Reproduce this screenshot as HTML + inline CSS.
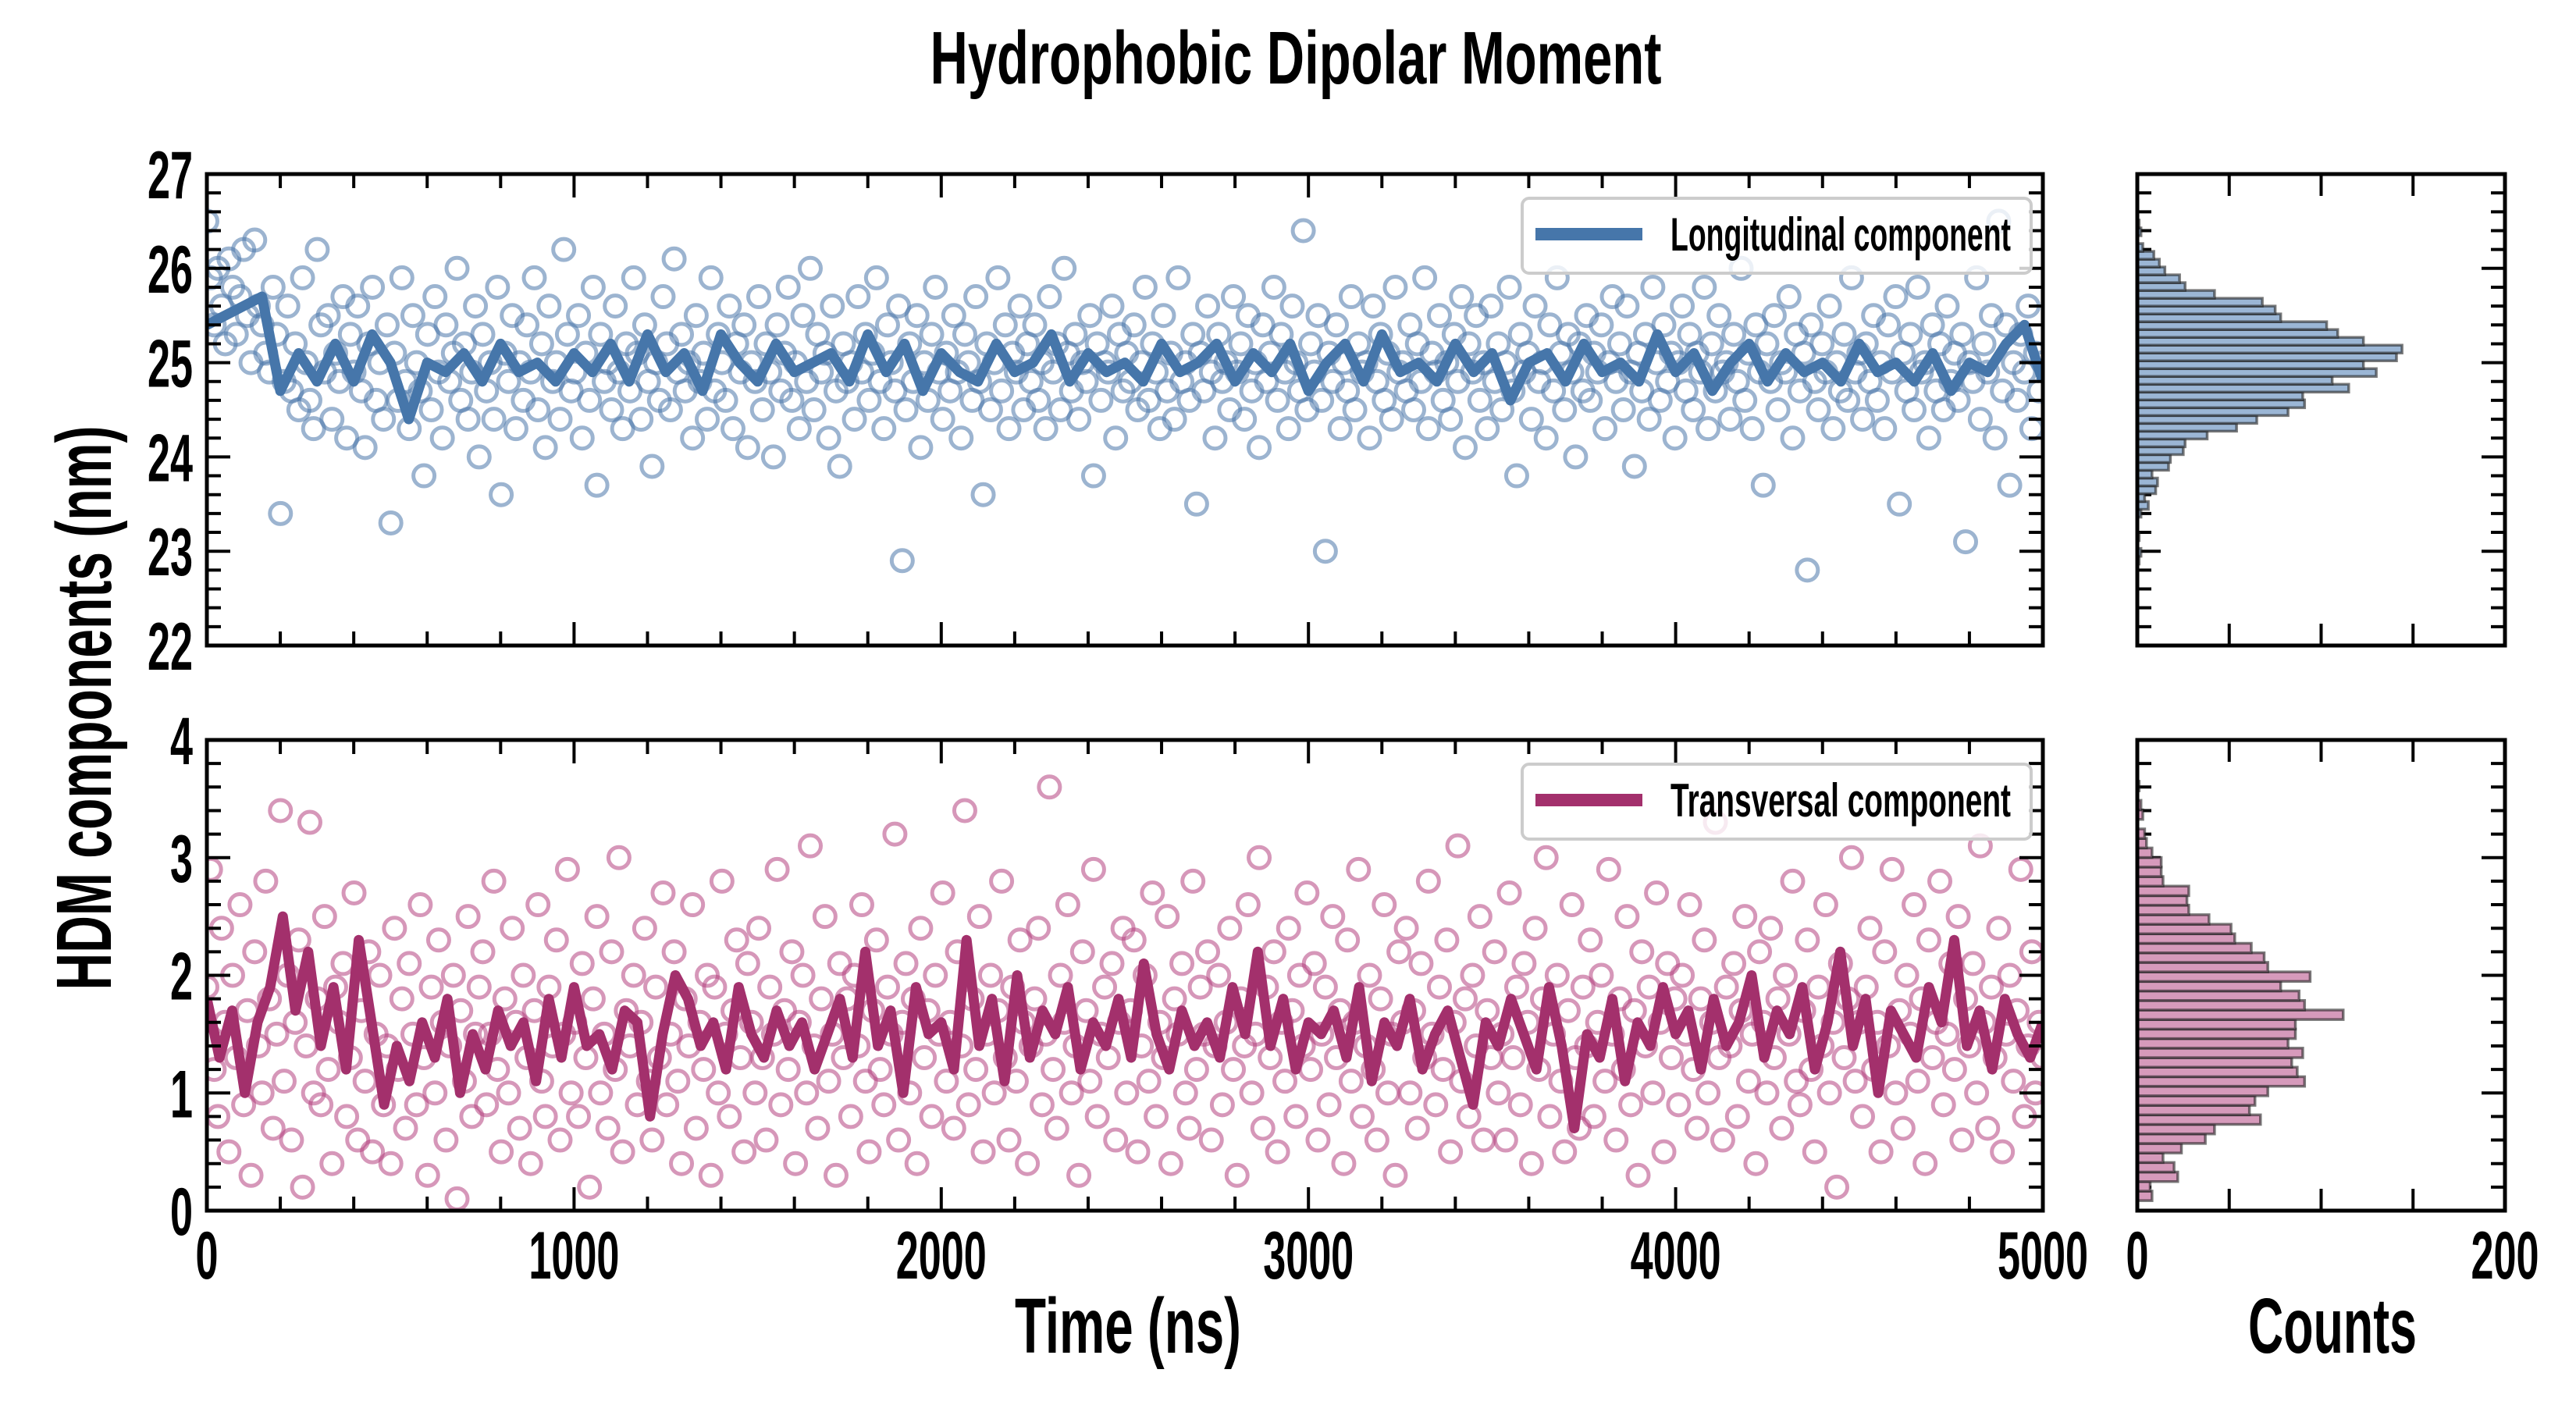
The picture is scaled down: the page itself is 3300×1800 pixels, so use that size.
<!DOCTYPE html>
<html><head><meta charset="utf-8"><style>
html,body{margin:0;padding:0;background:#fff;}
svg{display:block;}
text{font-family:"Liberation Sans Narrow","Liberation Sans",sans-serif;font-weight:bold;fill:#000;}
</style></head><body>
<svg id="chart" xmlns="http://www.w3.org/2000/svg" width="3300" height="1800" viewBox="0 0 3300 1800">
<rect width="3300" height="1800" fill="#fff"/>
<text x="1660" y="107" text-anchor="middle" font-size="96" textLength="937" lengthAdjust="spacingAndGlyphs">Hydrophobic Dipolar Moment</text>
<text x="1445" y="1733" text-anchor="middle" font-size="100" textLength="290" lengthAdjust="spacingAndGlyphs">Time (ns)</text>
<text x="2988" y="1733" text-anchor="middle" font-size="100" textLength="216" lengthAdjust="spacingAndGlyphs">Counts</text>
<text transform="translate(142,907) rotate(-90)" text-anchor="middle" font-size="100" textLength="723" lengthAdjust="spacingAndGlyphs">HDM components (nm)</text>
<g id="layer"></g>
</svg>
<script>
// ---- data ----
const longScatter = [
26.5,25.9,25.4,26.0,25.6,25.2,26.1,25.8,25.3,25.7,26.2,25.5,25.0,26.3,25.6,25.4,25.1,24.9,25.8,25.3,23.4,24.8,25.6,24.7,25.2,
24.5,25.9,25.0,24.6,24.3,26.2,25.4,24.9,25.5,24.4,25.1,24.8,25.7,24.2,25.3,24.9,25.6,24.7,24.1,25.2,25.8,24.6,25.0,24.4,25.4,
23.3,25.1,24.6,25.9,24.8,24.3,25.5,25.0,24.7,23.8,25.3,24.5,25.7,24.9,24.2,25.4,24.8,25.1,26.0,24.6,25.2,24.4,24.9,25.6,24.0,
25.3,24.7,25.0,24.4,25.8,23.6,25.1,24.8,25.5,24.3,25.0,24.6,25.4,24.9,25.9,24.5,25.2,24.1,25.6,24.8,25.0,24.4,26.2,25.3,24.7,
24.9,25.5,24.2,25.1,24.6,25.8,23.7,25.3,24.8,25.0,24.5,25.6,24.9,24.3,25.2,24.7,25.9,25.1,24.4,25.4,24.8,23.9,25.0,24.6,25.7,
25.2,24.5,26.1,24.9,25.3,24.7,25.0,24.2,25.5,24.8,25.1,24.4,25.9,24.7,25.3,25.0,24.6,25.6,24.3,25.2,24.9,25.4,24.1,25.0,24.8,
25.7,24.5,25.2,24.9,24.0,25.4,24.7,25.1,25.8,24.6,25.0,24.3,25.5,24.8,26.0,24.5,25.3,24.9,25.1,24.2,25.6,24.7,23.9,25.2,24.8,
25.0,24.4,25.7,24.9,25.3,24.6,25.1,25.9,24.8,24.3,25.4,25.0,24.7,25.6,22.9,24.5,25.2,24.8,25.5,24.1,25.0,24.6,25.3,25.8,24.9,
24.4,25.1,24.7,25.5,24.9,24.2,25.3,25.0,24.6,25.7,24.8,23.6,25.2,24.5,25.0,25.9,24.7,25.4,24.3,25.1,24.9,25.6,24.5,25.2,24.8,
25.4,24.6,25.0,24.3,25.7,24.9,25.2,24.5,26.0,25.1,24.7,25.3,24.4,25.0,24.8,25.5,23.8,25.2,24.6,25.0,24.9,25.6,24.2,25.3,24.7,
25.1,24.8,25.4,24.5,25.0,25.8,24.6,25.2,24.9,24.3,25.5,24.7,25.1,24.4,25.9,24.8,25.0,24.6,25.3,23.5,25.1,24.7,25.6,24.9,24.2,
25.3,24.8,25.0,24.5,25.7,24.9,25.2,24.4,25.5,24.7,25.0,24.1,25.4,24.8,25.1,25.8,24.6,25.3,24.9,24.3,25.6,25.0,24.7,26.4,24.5,
25.2,24.9,25.5,24.6,23.0,25.1,24.8,25.4,24.3,25.0,24.7,25.7,24.5,25.2,24.9,25.0,24.2,25.6,24.8,25.3,24.6,25.1,24.4,25.8,24.9,
25.0,24.7,25.4,24.5,25.2,24.8,25.9,24.3,25.1,24.9,25.5,24.6,25.0,24.4,25.3,24.8,25.7,24.1,25.2,24.9,25.5,24.6,25.0,24.3,25.6,
24.8,25.2,24.5,25.0,25.8,24.7,23.8,25.3,24.9,25.1,24.4,25.6,24.8,25.0,24.2,25.4,24.7,25.9,25.1,24.5,25.3,24.9,24.0,25.2,24.7,
25.5,24.6,25.1,24.9,25.4,24.3,25.0,25.7,24.8,25.2,24.5,25.6,24.9,23.9,25.1,24.7,25.3,24.4,25.8,25.0,24.6,25.4,24.8,25.1,24.2,
25.0,25.6,24.7,25.3,24.5,25.1,24.9,25.8,24.3,25.2,24.7,25.5,24.9,25.0,24.4,25.3,24.8,26.0,24.6,25.1,24.3,25.4,24.9,23.7,25.2,
24.8,25.5,24.5,25.0,24.9,25.7,24.2,25.3,24.7,25.1,22.8,25.4,24.8,24.5,25.2,24.9,25.6,24.3,25.0,24.7,25.3,24.6,25.9,24.9,25.1,
24.4,25.2,24.8,25.5,24.6,25.0,24.3,25.4,24.9,25.7,23.5,25.1,24.7,25.3,24.5,25.8,24.9,25.0,24.2,25.4,24.7,25.2,24.5,25.6,24.8,
25.1,24.6,25.3,23.1,25.0,24.8,25.9,24.4,25.2,24.9,25.5,24.2,26.5,24.7,25.4,23.7,25.0,24.6,25.3,24.9,25.6,24.3,25.1,24.7,25.0];
const transScatter = [
1.9,2.9,1.2,0.8,2.4,1.6,0.5,2.0,1.3,2.6,0.9,1.7,0.3,2.2,1.4,1.0,2.8,1.8,0.7,1.5,3.4,1.1,2.0,0.6,1.6,
2.3,0.2,1.4,3.3,1.0,1.8,0.9,2.5,1.2,0.4,1.9,1.6,2.1,0.8,1.3,2.7,0.6,1.7,1.1,2.2,0.5,1.5,2.0,0.9,1.4,
0.4,2.4,1.2,1.8,0.7,2.1,1.5,0.9,2.6,1.3,0.3,1.9,1.0,2.3,1.6,0.6,1.4,2.0,0.1,1.7,1.1,2.5,0.8,1.5,1.9,
2.2,0.9,1.5,2.8,1.2,0.5,1.8,1.0,2.4,1.6,0.7,2.0,1.3,0.4,1.7,2.6,1.1,0.8,1.9,1.4,2.3,0.6,1.5,2.9,1.0,
1.6,0.8,2.1,1.3,0.2,1.8,2.5,1.0,1.5,0.7,2.2,1.2,3.0,0.5,1.7,1.4,2.0,0.9,1.6,2.4,1.1,0.6,1.9,1.3,2.7,
0.9,1.5,2.2,1.1,0.4,1.8,1.4,2.6,0.7,1.6,1.2,2.0,0.3,1.9,1.0,2.8,1.5,0.8,1.7,2.3,1.3,0.5,2.1,1.6,1.0,
2.4,1.3,0.6,1.9,1.5,2.9,0.9,1.7,1.2,2.2,0.4,1.6,2.0,1.0,3.1,1.4,0.7,1.8,2.5,1.1,1.5,0.3,2.1,1.3,1.8,
0.8,2.0,1.4,2.6,1.1,0.5,1.7,2.3,1.2,0.9,1.9,1.5,3.2,0.6,1.6,2.1,1.0,1.8,0.4,2.4,1.3,1.7,0.8,2.0,1.5,
2.7,1.1,1.6,0.7,2.2,1.4,3.4,0.9,1.8,1.2,2.5,0.5,1.5,2.0,1.0,1.7,2.8,1.3,0.6,1.9,1.1,2.3,1.6,0.4,1.4,
1.8,2.4,0.9,1.5,3.6,1.2,0.7,2.0,1.6,2.6,1.0,1.4,0.3,2.2,1.7,1.1,2.9,0.8,1.5,1.9,1.3,2.1,0.6,1.6,2.4,
1.0,1.7,2.3,0.5,1.4,2.0,1.1,2.7,0.8,1.6,1.3,2.5,0.4,1.8,1.5,2.1,1.0,0.7,2.8,1.2,1.9,1.5,2.2,0.6,1.4,
2.0,0.9,1.6,2.4,1.2,0.3,1.8,1.4,2.6,1.0,1.5,3.0,0.7,1.9,1.3,2.2,0.5,1.6,1.1,2.4,1.7,0.8,2.0,1.4,2.7,
1.2,2.1,0.6,1.5,1.9,0.9,2.5,1.3,1.7,0.4,2.3,1.1,1.6,2.9,0.8,1.4,2.0,1.2,0.6,1.8,2.6,1.0,1.5,0.3,2.2,
1.6,2.4,1.0,1.7,0.7,2.1,1.3,2.8,1.5,0.9,1.9,1.2,2.3,0.5,1.6,3.1,1.1,1.8,0.8,2.0,1.4,2.5,0.6,1.7,1.3,
2.2,1.0,1.5,0.6,2.7,1.3,1.9,0.9,2.1,1.6,0.4,2.4,1.2,1.8,3.0,0.8,1.5,2.0,1.1,0.5,1.7,2.6,1.3,0.7,1.9,
1.4,2.3,0.8,1.6,2.0,1.1,2.9,1.5,0.6,1.8,1.2,2.5,0.9,1.7,0.3,2.2,1.4,1.9,1.0,2.7,1.6,0.5,2.1,1.3,1.8,
0.9,2.0,1.5,2.6,1.2,0.7,1.8,2.3,1.0,1.6,3.3,1.3,0.6,1.9,1.4,2.1,0.8,1.7,2.5,1.1,1.5,0.4,2.2,1.6,1.0,
2.4,1.3,1.8,0.7,2.0,1.5,2.8,1.1,0.9,1.7,2.3,1.2,0.5,1.9,1.4,2.6,1.0,1.6,0.2,2.1,1.3,1.8,3.0,1.1,1.6,
0.8,1.9,2.4,1.2,1.6,0.5,2.2,1.4,2.9,1.0,1.7,0.7,2.0,1.5,2.6,1.1,1.8,0.4,2.3,1.3,1.6,2.8,0.9,1.5,2.1,
1.2,2.5,0.6,1.8,1.4,2.1,1.0,3.1,1.6,0.7,1.9,1.3,2.4,0.5,1.5,2.0,1.1,1.7,2.9,0.8,1.4,2.2,1.0,1.6,1.3];
const longLine = [25.4,25.5,25.6,25.7,24.7,25.1,24.8,25.2,24.8,25.3,25.0,24.4,25.0,24.9,25.1,24.8,25.2,24.9,25.0,24.8,25.1,24.9,25.2,24.8,25.3,24.9,25.1,24.7,25.3,25.0,24.8,25.2,24.9,25.0,25.1,24.8,25.3,24.9,25.2,24.7,25.1,24.9,24.8,25.2,24.9,25.0,25.3,24.8,25.1,24.9,25.0,24.8,25.2,24.9,25.0,25.2,24.8,25.1,24.9,25.2,24.7,25.0,25.2,24.8,25.3,24.9,25.0,24.8,25.2,24.9,25.1,24.6,25.0,25.1,24.8,25.2,24.9,25.0,24.8,25.3,24.9,25.1,24.7,25.0,25.2,24.8,25.1,24.9,25.0,24.8,25.2,24.9,25.0,24.8,25.1,24.7,25.0,24.9,25.2,25.4,24.8];
const transLine = [1.8,1.3,1.7,1.0,1.6,1.9,2.5,1.7,2.2,1.4,1.9,1.2,2.3,1.6,0.9,1.4,1.1,1.6,1.3,1.8,1.0,1.5,1.2,1.7,1.4,1.6,1.1,1.8,1.3,1.9,1.4,1.5,1.2,1.7,1.6,0.8,1.5,2.0,1.8,1.4,1.6,1.2,1.9,1.5,1.3,1.7,1.4,1.6,1.2,1.5,1.8,1.3,2.2,1.4,1.7,1.0,1.9,1.5,1.6,1.2,2.3,1.4,1.8,1.1,2.0,1.3,1.7,1.5,1.9,1.2,1.6,1.4,1.8,1.3,2.1,1.5,1.2,1.7,1.4,1.6,1.3,1.9,1.5,2.2,1.4,1.8,1.2,1.6,1.5,1.7,1.3,1.9,1.1,1.6,1.4,1.8,1.2,1.5,1.7,1.3,0.9,1.6,1.4,1.8,1.5,1.2,1.9,1.4,0.7,1.5,1.3,1.8,1.1,1.6,1.4,1.9,1.5,1.7,1.2,1.8,1.4,1.6,2.0,1.3,1.7,1.5,1.9,1.2,1.6,2.2,1.4,1.8,1.0,1.7,1.5,1.3,1.9,1.6,2.3,1.4,1.7,1.2,1.8,1.5,1.3,1.6];
const longHistStart = 22.864, longHistWidth = 0.0829;
const longHistCounts = [1,2,0,1,0,0,2,6,4,10,11,8,17,18,25,26,38,54,65,82,91,90,115,106,130,123,141,144,123,109,103,78,75,68,42,26,23,15,12,9,3,0,2,1];
const transHistStart = 0.085, transHistWidth = 0.081;
const transHistCounts = [8,7,22,20,14,24,37,42,67,61,64,71,91,87,84,90,82,86,86,112,91,88,78,94,71,69,62,53,51,39,28,27,28,14,13,13,8,5,4,0,3,2,0,1];
const xTicks = [0,1000,2000,3000,4000,5000];
const longYTicks = [22,23,24,25,26,27];
const transYTicks = [0,1,2,3,4];
const histTicks = [0,200];

// ---- layout ----
const NS='http://www.w3.org/2000/svg';
const layer=document.getElementById('layer');
function mk(tag,attrs,parent){const e=document.createElementNS(NS,tag);for(const k in attrs)e.setAttribute(k,attrs[k]);(parent||layer).appendChild(e);return e;}
const X0=265,X1=2617, H0=2738,H1=3209;
const pTop={y0:223,y1:827,lo:22,hi:27}, pBot={y0:948,y1:1551,lo:0,hi:4};
const xs=t=>X0+(t/5000)*(X1-X0);
const ys=(p,v)=>p.y1-(v-p.lo)/(p.hi-p.lo)*(p.y1-p.y0);
const hx=c=>H0+(c/200)*(H1-H0);

function panel(p,scatter,line,color,lineColor,counts,hstart,hw,yTicks,name,legendText,fill){
  const g=mk('g',{});
  
  
  const cp=mk('clipPath',{id:'cp-'+name},g);
  mk('rect',{x:X0,y:p.y0,width:X1-X0,height:p.y1-p.y0},cp);
  const sg=mk('g',{'clip-path':'url(#cp-'+name+')'},g);
  const n=scatter.length;
  scatter.forEach((v,i)=>{
    const c=mk('circle',{cx:xs(i*5000/(n-1)),cy:ys(p,v),r:13.5,fill:'none',stroke:color,'stroke-width':5,'stroke-opacity':0.55},sg);
    
    
  });
  const m=line.length;
  const d=line.map((v,i)=>(i?'L':'M')+xs(i*5000/(m-1)).toFixed(1)+','+ys(p,v).toFixed(1)).join(' ');
  const pl=mk('path',{d:d,fill:'none',stroke:lineColor,'stroke-width':13,'stroke-linejoin':'round'},sg);
  
  
  mk('rect',{x:X0,y:p.y0,width:X1-X0,height:p.y1-p.y0,fill:'none',stroke:'#000','stroke-width':5},g);
  for(let t=0;t<=5000;t+=200){
    const L=(t%1000===0)?30:18, x=xs(t);
    mk('line',{x1:x,y1:p.y1,x2:x,y2:p.y1-L,stroke:'#000','stroke-width':4},g);
    mk('line',{x1:x,y1:p.y0,x2:x,y2:p.y0+L,stroke:'#000','stroke-width':4},g);
  }
  for(let k=0;k<=(p.hi-p.lo)*5;k++){
    const v=p.lo+k*0.2, L=(k%5===0)?30:18, y=ys(p,v);
    mk('line',{x1:X0,y1:y,x2:X0+L,y2:y,stroke:'#000','stroke-width':4},g);
    mk('line',{x1:X1,y1:y,x2:X1-L,y2:y,stroke:'#000','stroke-width':4},g);
    mk('line',{x1:H0,y1:y,x2:H0+L,y2:y,stroke:'#000','stroke-width':4},g);
    mk('line',{x1:H1,y1:y,x2:H1-L,y2:y,stroke:'#000','stroke-width':4},g);
  }
  yTicks.forEach(v=>{
    const s=String(v);
    const t=mk('text',{x:247,y:ys(p,v)+31,'text-anchor':'end','font-size':86,textLength:29*s.length,lengthAdjust:'spacingAndGlyphs'},g);
    t.textContent=s;
    
    
  });
  const hg=mk('g',{},g);
  
  
  counts.forEach((c,i)=>{
    if(!c) return;
    const yTop=ys(p,hstart+(i+1)*hw), yB=ys(p,hstart+i*hw);
    const r=mk('rect',{x:H0,y:yTop,width:hx(c)-H0,height:yB-yTop,fill:fill,stroke:'#222','stroke-opacity':0.6,'stroke-width':3.5},hg);
    
    
  });
  mk('rect',{x:H0,y:p.y0,width:H1-H0,height:p.y1-p.y0,fill:'none',stroke:'#000','stroke-width':5},g);
  [50,100,150].forEach(c=>{
    const L=28;
    mk('line',{x1:hx(c),y1:p.y1,x2:hx(c),y2:p.y1-L,stroke:'#000','stroke-width':4},g);
    mk('line',{x1:hx(c),y1:p.y0,x2:hx(c),y2:p.y0+L,stroke:'#000','stroke-width':4},g);
  });
  const lg=mk('g',{},g);
  
  
  const ly=p.y0+31;
  mk('rect',{x:1950,y:ly,width:652,height:96,rx:9,fill:'#fff','fill-opacity':0.8,stroke:'#ccc','stroke-width':4},lg);
  mk('line',{x1:1967,y1:ly+46,x2:2104,y2:ly+46,stroke:lineColor,'stroke-width':16},lg);
  const lt=mk('text',{x:2140,y:ly+67,'font-size':60,textLength:436,lengthAdjust:'spacingAndGlyphs'},lg);
  lt.textContent=legendText;
}
panel(pTop,longScatter,longLine,'#4a77aa','#4676aa',longHistCounts,longHistStart,longHistWidth,longYTicks,'longitudinal','Longitudinal component','#9bb6d5');
panel(pBot,transScatter,transLine,'#b5427f','#a3306c',transHistCounts,transHistStart,transHistWidth,transYTicks,'transversal','Transversal component','#d69abb');

xTicks.forEach(t=>{
  const s=String(t);
  const e=mk('text',{x:xs(t),y:1638,'text-anchor':'middle','font-size':86,textLength:29*s.length,lengthAdjust:'spacingAndGlyphs'});
  e.textContent=s;
  
  
});
histTicks.forEach(c=>{
  const s=String(c);
  const e=mk('text',{x:hx(c),y:1638,'text-anchor':'middle','font-size':86,textLength:29*s.length,lengthAdjust:'spacingAndGlyphs'});
  e.textContent=s;
  
  
});
</script>
</body></html>
